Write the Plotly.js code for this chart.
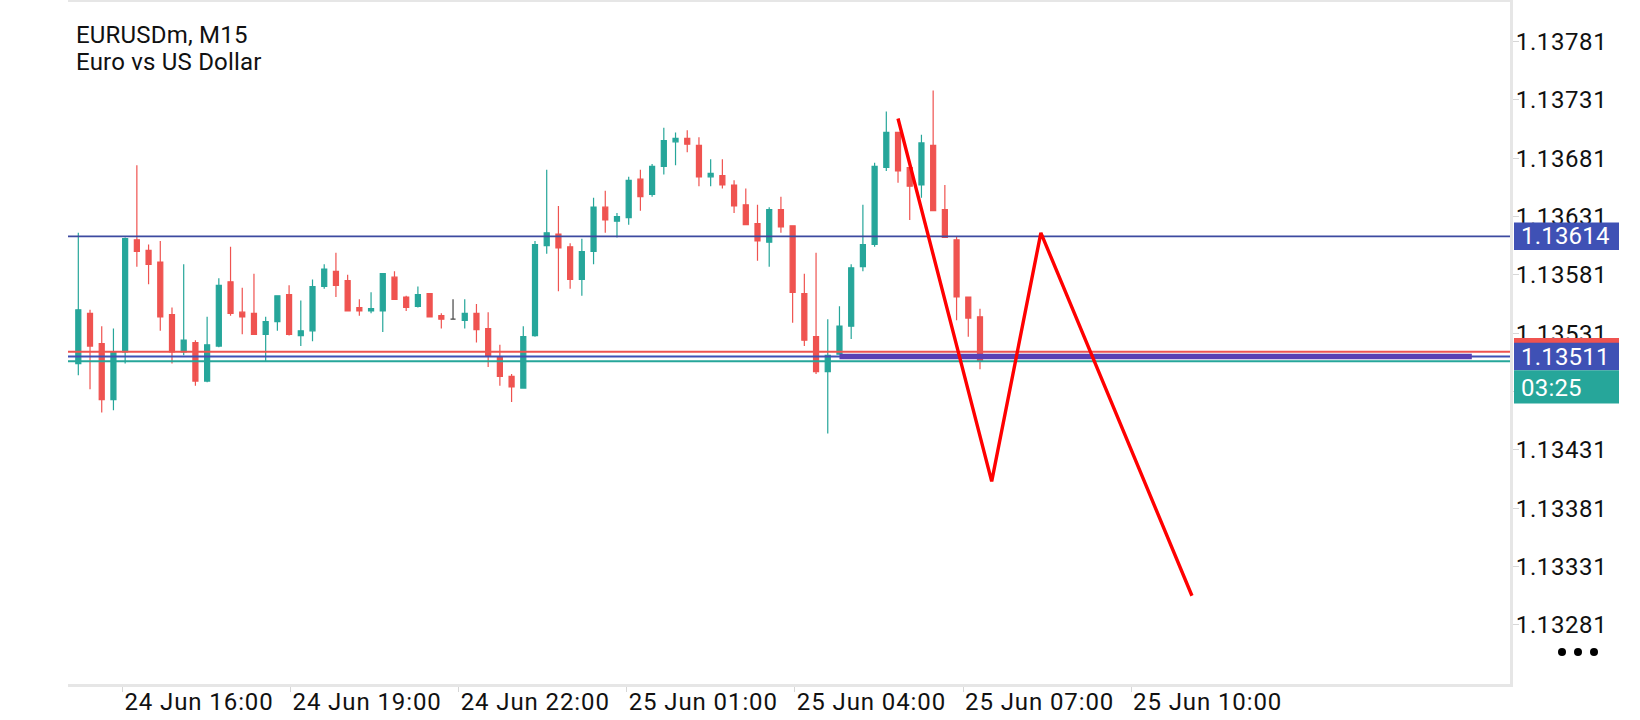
<!DOCTYPE html>
<html><head><meta charset="utf-8">
<script src="https://cdn.plot.ly/plotly-3.0.1.min.js"></script>
<style>html,body{margin:0;padding:0;background:#fff;}#chart{width:1640px;height:720px;}
.xtick text{letter-spacing:0.9px;} .ytick text{letter-spacing:0.6px;} .annotation-text{letter-spacing:0.2px;}</style>
</head><body><div id="chart"></div>
<script>
const symbolTitle = 'EURUSDm, M15';
const symbolDesc = 'Euro vs US Dollar';

const openP  = [1.13505,1.13548,1.13522,1.13474,1.13515,1.13611,1.13602,1.13592,1.13547,1.13515,
                1.13523,1.13490,1.13520,1.13575,1.13549,1.13548,1.13530,1.13541,1.13564,1.13529,
                1.13533,1.13571,1.13584,1.13576,1.13553,1.13550,1.13550,1.13579,1.13562,1.13554,
                1.13565,1.13546,1.13543,1.13542,1.13548,1.13535,1.13510,1.13494,1.13484,1.13529,
                1.13606,1.13616,1.13605,1.13577,1.13601,1.13639,1.13627,1.13630,1.13663,1.13650,
                1.13674,1.13695,1.13698,1.13692,1.13665,1.13666,1.13658,1.13641,1.13625,1.13609,
                1.13637,1.13623,1.13565,1.13528,1.13498,1.13513,1.13537,1.13588,1.13607,1.13673,
                1.13703,1.13673,1.13658,1.13692,1.13637,1.13611,1.13562,1.13545];
const highP  = [1.13617,1.13551,1.13537,1.13535,1.13613,1.13675,1.13607,1.13610,1.13553,1.13590,
                1.13525,1.13545,1.13578,1.13605,1.13570,1.13582,1.13545,1.13563,1.13572,1.13559,
                1.13577,1.13590,1.13600,1.13581,1.13560,1.13566,1.13582,1.13584,1.13563,1.13571,
                1.13565,1.13548,1.13560,1.13560,1.13556,1.13549,1.13521,1.13496,1.13537,1.13610,
                1.13671,1.13640,1.13608,1.13612,1.13647,1.13653,1.13634,1.13665,1.13671,1.13676,
                1.13707,1.13703,1.13705,1.13699,1.13680,1.13680,1.13662,1.13655,1.13641,1.13639,
                1.13648,1.13623,1.13582,1.13600,1.13543,1.13554,1.13590,1.13641,1.13677,1.13721,
                1.13703,1.13673,1.13701,1.13739,1.13658,1.13614,1.13562,1.13552];
const lowP   = [1.13495,1.13483,1.13463,1.13465,1.13505,1.13588,1.13573,1.13533,1.13505,1.13512,
                1.13486,1.13489,1.13519,1.13546,1.13530,1.13530,1.13507,1.13533,1.13529,1.13520,
                1.13524,1.13569,1.13562,1.13550,1.13546,1.13548,1.13532,1.13560,1.13550,1.13553,
                1.13545,1.13535,1.13543,1.13535,1.13523,1.13502,1.13486,1.13472,1.13484,1.13528,
                1.13599,1.13567,1.13569,1.13563,1.13590,1.13617,1.13613,1.13624,1.13636,1.13648,
                1.13667,1.13675,1.13686,1.13657,1.13657,1.13655,1.13634,1.13624,1.13593,1.13588,
                1.13617,1.13540,1.13520,1.13496,1.13445,1.13513,1.13526,1.13584,1.13605,1.13670,
                1.13660,1.13628,1.13647,1.13636,1.13613,1.13542,1.13528,1.13500];
const closeP = [1.13551,1.13520,1.13474,1.13515,1.13612,1.13601,1.13590,1.13545,1.13515,1.13525,
                1.13490,1.13521,1.13572,1.13548,1.13545,1.13530,1.13541,1.13563,1.13530,1.13533,
                1.13571,1.13586,1.13572,1.13550,1.13550,1.13552,1.13582,1.13560,1.13553,1.13564,
                1.13545,1.13543,1.13543,1.13548,1.13534,1.13512,1.13494,1.13485,1.13528,1.13607,
                1.13617,1.13604,1.13577,1.13601,1.13639,1.13628,1.13631,1.13662,1.13648,1.13674,
                1.13696,1.13698,1.13693,1.13665,1.13668,1.13658,1.13640,1.13624,1.13610,1.13637,
                1.13622,1.13566,1.13525,1.13498,1.13512,1.13537,1.13587,1.13607,1.13674,1.13703,
                1.13670,1.13657,1.13694,1.13636,1.13613,1.13562,1.13544,1.13507];

const xTickBars   = [3.77, 18.12, 32.48, 46.83, 61.19, 75.55, 89.9];
const xTickLabels = ['24 Jun 16:00','24 Jun 19:00','24 Jun 22:00','25 Jun 01:00','25 Jun 04:00','25 Jun 07:00','25 Jun 10:00'];
const yTickPrices = [1.13281, 1.13331, 1.13381, 1.13431, 1.13481, 1.13531, 1.13581, 1.13631, 1.13681, 1.13731, 1.13781];

const levelPrice = 1.13614;
const askPrice   = 1.13515;
const bidPrice   = 1.13511;
const lastPrice  = 1.13507;
const bandBars   = [65, 119];
const bandPrice  = 1.13511;
const zigzagBars   = [70, 78, 82.2, 95.1];
const zigzagPrices = [1.13715, 1.13404, 1.13617, 1.13306];
const timerText = '03:25';

const xRange = [-0.88, 122.26];
const yRange = [1.132304, 1.138148];

const GREEN = '#26a69a', RED = '#ef5350', BLUE = '#3f51b5';
const FONT = 'Roboto, "Noto Sans", sans-serif';

const bars = openP.map((_, i) => i);
const isDoji = bars.map(i => openP[i] === closeP[i]);
const pick = (arr, want) => bars.filter(i => isDoji[i] === want).map(i => arr[i]);

const traces = [
  {type:'candlestick', x:pick(bars,false), open:pick(openP,false), high:pick(highP,false),
   low:pick(lowP,false), close:pick(closeP,false), whiskerwidth:0, hoverinfo:'skip',
   increasing:{line:{color:GREEN,width:1.2},fillcolor:GREEN},
   decreasing:{line:{color:RED,width:1.2},fillcolor:RED}},
  {type:'candlestick', x:pick(bars,true), open:pick(openP,true), high:pick(highP,true),
   low:pick(lowP,true), close:pick(closeP,true), whiskerwidth:0, hoverinfo:'skip',
   increasing:{line:{color:'#444',width:1.2},fillcolor:'#444'},
   decreasing:{line:{color:'#444',width:1.2},fillcolor:'#444'}},
  {type:'scatter', mode:'lines', x:xRange, y:[levelPrice,levelPrice], line:{color:'#3d4aa0',width:1.8}, hoverinfo:'skip'},
  {type:'scatter', mode:'lines', x:xRange, y:[lastPrice,lastPrice], line:{color:GREEN,width:2}, hoverinfo:'skip'},
  {type:'scatter', mode:'lines', x:xRange, y:[bidPrice,bidPrice], line:{color:BLUE,width:2}, hoverinfo:'skip'},
  {type:'scatter', mode:'lines', x:bandBars, y:[bandPrice,bandPrice], line:{color:'#5a40b4',width:5.5}, hoverinfo:'skip'},
  {type:'scatter', mode:'lines', x:xRange, y:[askPrice,askPrice], line:{color:RED,width:2}, hoverinfo:'skip'},
  {type:'scatter', mode:'lines', x:zigzagBars, y:zigzagPrices, line:{color:'#ff0000',width:3.4}, hoverinfo:'skip'}
];

function priceBox(price, color, dy0, dy1){
  return {type:'rect', xref:'paper', xsizemode:'pixel', xanchor:1, x0:4, x1:109,
          yref:'y', ysizemode:'pixel', yanchor:price, y0:dy0, y1:dy1,
          fillcolor:color, line:{width:0}, layer:'above'};
}
function boxText(price, text, dy){
  return {xref:'paper', x:1, xanchor:'left', xshift:9, yref:'y', y:price, yanchor:'middle', yshift:dy,
          text:text, showarrow:false, font:{family:FONT, size:24, color:'#ffffff'}};
}

const dotOffsets = [52, 68, 84];
const shapes = [
  priceBox(levelPrice, BLUE, -13.75, 13.75),
  priceBox(askPrice, RED, -13.75, 13.75),
  priceBox(bidPrice, BLUE, -13.75, 13.75),
  priceBox(bidPrice, GREEN, -47, -13.75)
].concat(dotOffsets.map(dx => ({type:'circle', xref:'paper', xsizemode:'pixel', xanchor:1, x0:dx-4, x1:dx+4,
  yref:'paper', ysizemode:'pixel', yanchor:0, y0:28, y1:36, fillcolor:'#000', line:{width:0}})));

const annotations = [
  {xref:'paper', x:0, xanchor:'left', xshift:6, yref:'paper', y:1, yanchor:'middle', yshift:-33,
   text:symbolTitle, showarrow:false, font:{family:FONT, size:24, color:'#111'}},
  {xref:'paper', x:0, xanchor:'left', xshift:6, yref:'paper', y:1, yanchor:'middle', yshift:-60,
   text:symbolDesc, showarrow:false, font:{family:FONT, size:24, color:'#111'}},
  boxText(levelPrice, levelPrice.toFixed(5), 0),
  boxText(bidPrice, bidPrice.toFixed(5), 0),
  boxText(bidPrice, timerText, -31)
];

const axisFont = {family:FONT, size:24, color:'#111'};
const layout = {
  width:1640, height:720,
  margin:{l:68, r:130, t:2, b:36, pad:0},
  paper_bgcolor:'#ffffff', plot_bgcolor:'#ffffff',
  showlegend:false, hovermode:false, dragmode:false,
  boxgap:0.57, boxgroupgap:0,
  xaxis:{type:'linear', range:xRange, fixedrange:true, rangeslider:{visible:false},
         showgrid:false, zeroline:false, showline:true, mirror:true, linecolor:'#e6e6e6', linewidth:3,
         ticks:'outside', ticklen:5, tickcolor:'#d6d6d6', tickwidth:1,
         tickmode:'array', tickvals:xTickBars, ticktext:xTickLabels,
         ticklabelposition:'outside right', ticklabelstandoff:-6, tickfont:axisFont},
  yaxis:{side:'right', range:yRange, fixedrange:true, showgrid:false, zeroline:false,
         showline:true, linecolor:'#e6e6e6', linewidth:3,
         ticks:'outside', ticklen:6, tickcolor:'#d6d6d6', tickwidth:1,
         tickmode:'array', tickvals:yTickPrices, tickformat:'.5f', ticklabelstandoff:-8, tickfont:axisFont},
  shapes:shapes, annotations:annotations
};

Plotly.newPlot('chart', traces, layout, {staticPlot:true, displayModeBar:false});
</script></body></html>
